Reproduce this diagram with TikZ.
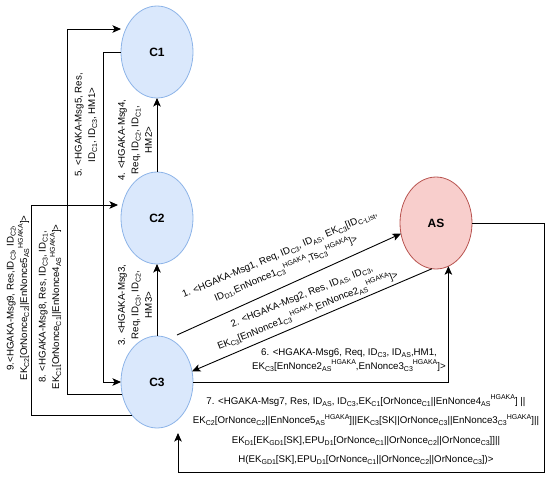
\documentclass[tikz,border=0pt]{standalone}
\usepackage{fontspec}
\setmainfont{Liberation Sans}
\usetikzlibrary{shapes.geometric,arrows.meta,calc}
\definecolor{cfill}{HTML}{DAE8FC}
\definecolor{cdraw}{HTML}{8DB4E8}
\definecolor{afill}{HTML}{F8CECC}
\definecolor{adraw}{HTML}{B85450}
\newcommand{\subx}[1]{\raisebox{-2.2pt}{\fontsize{7}{7}\selectfont #1}}
\newcommand{\supx}[1]{\raisebox{4.2pt}{\fontsize{7}{7}\selectfont #1}}
\tikzset{
  cnode/.style={ellipse, draw=cdraw, fill=cfill, line width=0.8pt, minimum width=72pt, minimum height=92pt, inner sep=0pt, outer sep=0pt, font=\fontsize{12}{14}\selectfont\bfseries},
  anode/.style={cnode, draw=adraw, fill=afill},
  arr/.style={draw=black, line width=0.9pt, -{Stealth[length=8.5pt,width=7.5pt,inset=2pt]}},
  lbl/.style={align=center, inner sep=0pt, font=\fontsize{9.7}{13.5}\selectfont},
  lblw/.style={lbl, font=\fontsize{9.7}{16}\selectfont},
}
\begin{document}
\begin{tikzpicture}[x=1pt,y=-1pt]
\useasboundingbox (0,0) rectangle (550,480);
\node[cnode] (C1) at (157,52) {C1};
\node[cnode] (C2) at (157,218) {C2};
\node[cnode] (C3) at (157,382) {C3};
\node[anode] (AS) at (436,223) {AS};
% msg 3 and 4
\draw[arr] (C3.north) -- (C2.south);
\draw[arr] (C2.north) -- (C1.south);
% msg 5: C1 -> C3
\draw[arr] (C1.west) -- ++(-18,0) |- (C3.west);
% msg 8: C3 -> C1
\coordinate (m8e) at ($(C1.west)+(0,-23)$);
\draw[arr] (C3.199) -- ++(-55,0) |- (m8e);
% msg 9: C3 -> C2
\coordinate (m9e) at ($(C2.west)+(-3,-13)$);
\draw[arr] (C3.233) -- ++(-101,0) |- (m9e);
% msg 1 and 2
\coordinate (m1s) at ($(C3.north)+(20,-1)$);
\draw[arr] (m1s) -- (AS.197);
\draw[arr] (AS.265) -- (C3.17);
% msg 6
\draw[arr] (C3.east) -| (AS.-74.5);
% msg 7
\coordinate (m7e) at ($(C3.south)+(21,5)$);
\draw[arr] (AS.east) -- (544,223) -- (544,472) -| (m7e);
% labels
\node[lbl, rotate=90] (L9) at (18,298) {9.<HGAKA-Msg9, Res,ID\subx{C3}, ID\subx{C2},\\EK\subx{C2}[OrNonce\subx{C2}||EnNonce5\subx{AS}\supx{HGAKA}]>};
\node[lbl, rotate=90] (L8) at (50,307) {8. <HGAKA-Msg8, Res, ID\subx{C3}, ID\subx{C1},\\EK\subx{C1}[OrNonce\subx{C1}||EnNonce4\subx{AS}\supx{HGAKA}]>};
\node[lbl, rotate=90] (L5) at (86,125) {5. <HGAKA-Msg5, Res,\\ID\subx{C1}, ID\subx{C3}, HM1>};
\node[lbl, rotate=90] (L4) at (135,140) {4. <HGAKA-Msg4,\\Req, ID\subx{C2}, ID\subx{C1},\\HM2>};
\node[lbl, rotate=90] (L3) at (135,305) {3. <HGAKA-Msg3,\\Req, ID\subx{C3}, ID\subx{C2},\\HM3>};
\node[lblw, rotate=23] (L1) at (283,262) {1. <HGAKA-Msg1, Req, ID\subx{C3}, ID\subx{AS}, EK\subx{C3}[ID\subx{C-List},\\ID\subx{D1},EnNonce1\subx{C3}\supx{HGAKA},Ts\subx{C3}\supx{HGAKA}]>};
\node[lblw, rotate=22] (L2) at (305,304) {2. <HGAKA-Msg2, Res, ID\subx{AS}, ID\subx{C3},\\EK\subx{C3}[EnNonce1\subx{C3}\supx{HGAKA},EnNonce2\subx{AS}\supx{HGAKA}]>};
\node[lbl] (L6) at (349,360) {6. <HGAKA-Msg6, Req, ID\subx{C3}, ID\subx{AS},HM1,\\EK\subx{C3}[EnNonce2\subx{AS}\supx{HGAKA},EnNonce3\subx{C3}\supx{HGAKA}]>};
\node[lbl, font=\fontsize{9.7}{19.5}\selectfont] (L7) at (366,430) {7. <HGAKA-Msg7, Res, ID\subx{AS}, ID\subx{C3},EK\subx{C1}[OrNonce\subx{C1}||EnNonce4\subx{AS}\supx{HGAKA}] ||\\EK\subx{C2}[OrNonce\subx{C2}||EnNonce5\subx{AS}\supx{HGAKA}]||EK\subx{C3}[SK||OrNonce\subx{C3}||EnNonce3\subx{C3}\supx{HGAKA}]||\\EK\subx{D1}[EK\subx{GD1}[SK],EPU\subx{D1}[OrNonce\subx{C1}||OrNonce\subx{C2}||OrNonce\subx{C3}]]||\\H(EK\subx{GD1}[SK],EPU\subx{D1}[OrNonce\subx{C1}||OrNonce\subx{C2}||OrNonce\subx{C3}])>};
\end{tikzpicture}
\end{document}
